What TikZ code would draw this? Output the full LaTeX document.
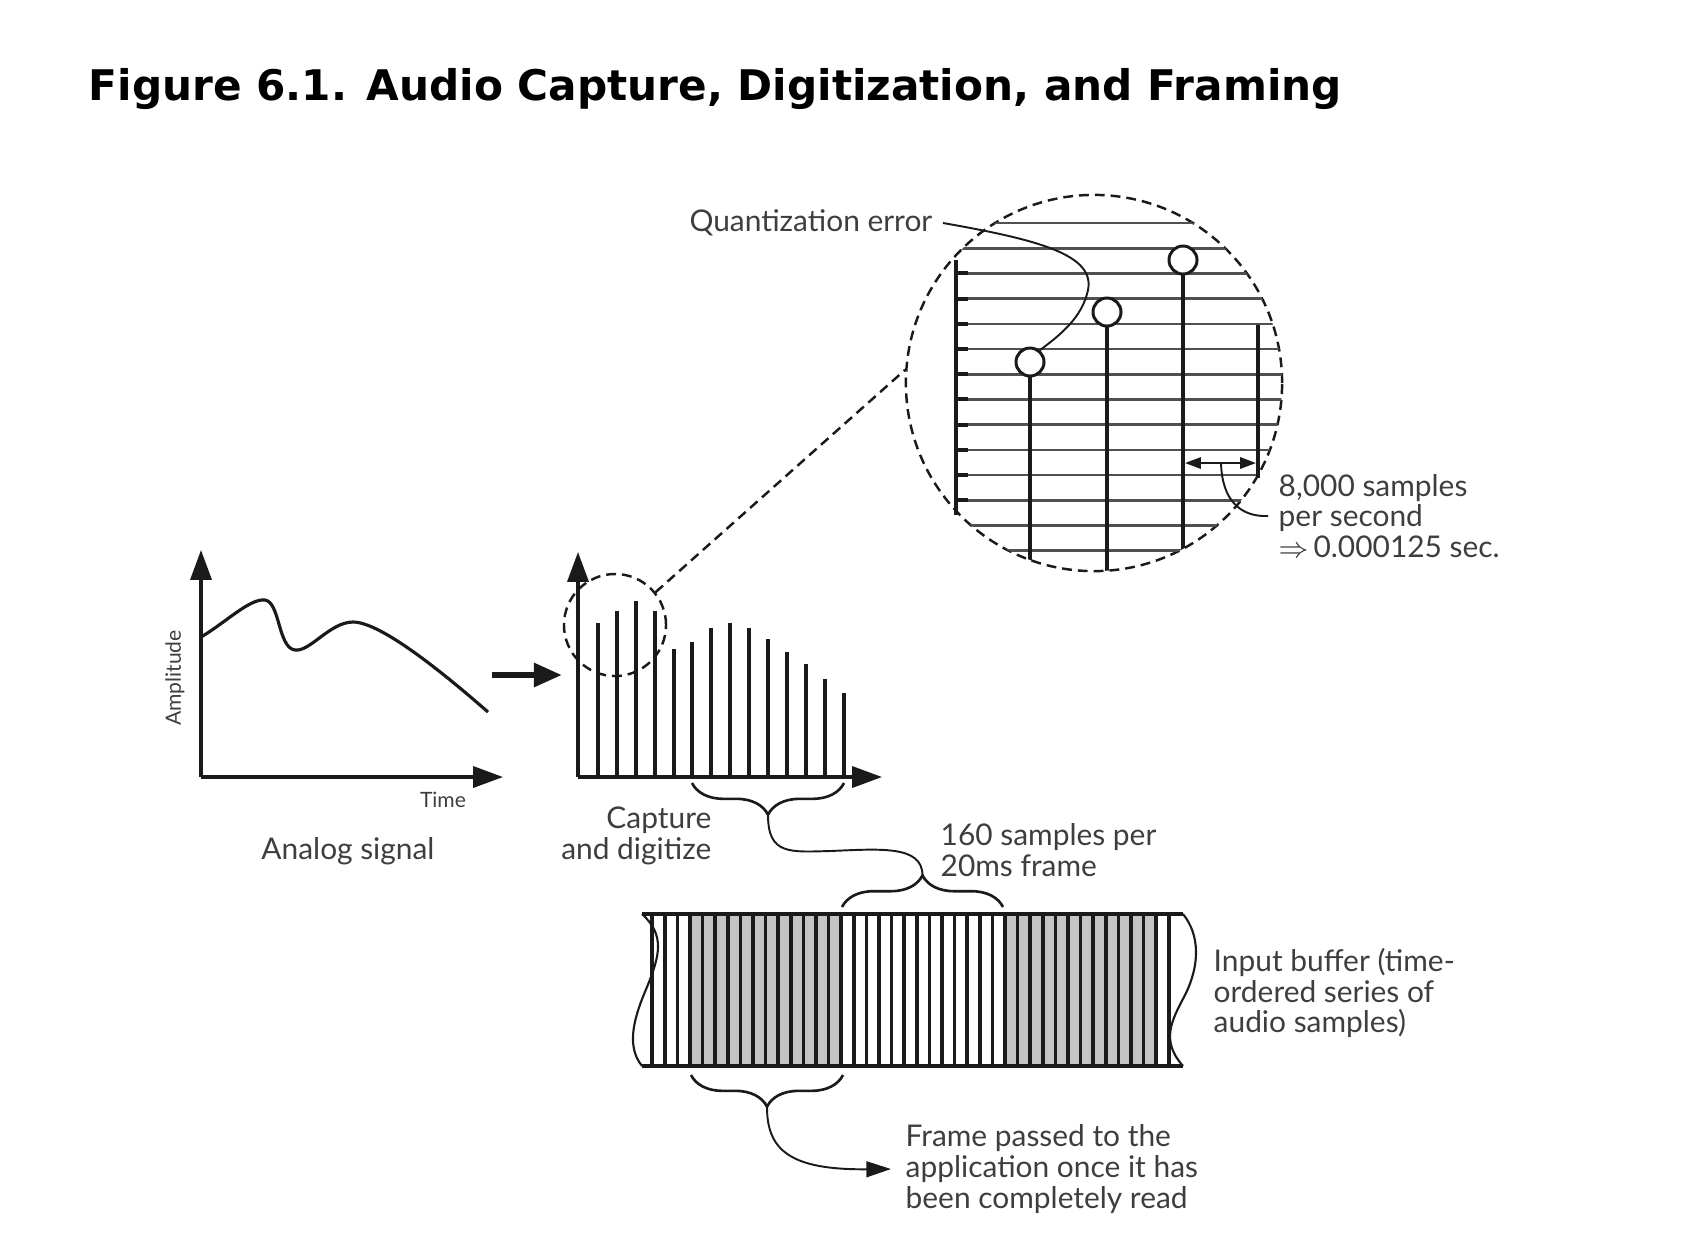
\documentclass[tikz,border=0pt]{standalone}
\usepackage{fontspec}
\setmainfont{Lato}
\newfontfamily\titlefont{DejaVu Sans}
\usetikzlibrary{arrows.meta,positioning,decorations.pathreplacing}
\definecolor{ink}{HTML}{1A1A1A}
\definecolor{labelgray}{HTML}{3E3E3E}
\definecolor{cellgray}{HTML}{C4C4C4}
\definecolor{gridgray}{HTML}{505050}

\tikzset{
  axis/.style={line width=0.9pt,ink,-{Triangle[length=8.5pt,width=6pt]}},
  lbl/.style={text=labelgray,font=\fontsize{8.5}{8.7}\selectfont,inner sep=0pt,align=left},
  tinylbl/.style={text=labelgray,font=\fontsize{6}{7}\selectfont,inner sep=0pt},
  curly/.style={decorate,decoration={brace,amplitude=9pt},line width=0.75pt,ink},
  zoomring/.style={circle,draw=ink,dash pattern=on 2.8pt off 1.7pt,line width=0.7pt,inner sep=0pt},
  smp/.style={circle,draw=ink,fill=white,line width=0.85pt,minimum size=0.28cm,inner sep=0pt},
  stem/.style={line width=0.9pt,ink},
  leader/.style={line width=0.55pt,ink},
}

\begin{document}
\begin{tikzpicture}[x=0.01cm,y=-0.01cm]
\useasboundingbox (0,0) rectangle (1688,1256);
\node[anchor=base west,inner sep=0pt,font=\titlefont\bfseries\fontsize{12}{14}\selectfont] (title) at (88,100) {Figure 6.1. Audio Capture, Digitization, and Framing};

% analog signal
\coordinate (ao) at (201,777);
\draw[axis] (ao) -- (201,550);
\draw[axis] (ao) -- (503,777);
\draw[line width=0.9pt,ink] (201,637) .. controls (225,623) and (250,598) .. (265,600)
  .. controls (280,602) and (278,648) .. (295,650)
  .. controls (310,652) and (330,622) .. (353,622)
  .. controls (380,622) and (440,670) .. (488,712);
\node[tinylbl,rotate=90] (amp) at (175,678) {Amplitude};
\node[tinylbl] (time) at (443,800) {Time};
\node[lbl] (analog) at (348,851) {Analog signal};

\coordinate (fa) at (492,675);
\coordinate (fb) at (562,675);
\draw[line width=1.8pt,ink,-{Triangle[length=8pt,width=6.5pt]}] (fa) -- (fb);

% sampled signal
\coordinate (do) at (578,777);
\foreach \x/\t in {598/623,617/611,636/601,655/611,674/649,692/642,711/628,730/623,749/628,768/639,787/652,806/664,825/679,844/693}
  \draw[stem] (\x,777) -- (\x,\t);
\draw[axis] (do) -- (578,552);
\draw[axis] (do) -- (882,777);
\node[lbl,anchor=east,align=right] (capt) at (712,836) {Capture\\and digitize};

% zoomed view
\node[zoomring,minimum size=1.02cm] (zc) at (615,625) {};
\node[zoomring,minimum size=3.76cm] (bigc) at (1094,383) {};
\draw[ink,dash pattern=on 2.8pt off 1.7pt,line width=0.7pt] (zc.39) -- (bigc.176);
\begin{scope}
\clip (bigc.center) circle (1.88cm);
\foreach \k in {0,...,13}
  \draw[line width=0.75pt,gridgray] (957,223+25.2*\k) -- (1300,223+25.2*\k);
\foreach \x/\t in {1030/362,1107/312,1183/260}
  \draw[stem] (\x,\t) -- (\x,600);
\end{scope}
\draw[stem] (1258,325) -- (1258,478);
\draw[line width=1.2pt,ink] (956,260) -- (956,515);
\foreach \k in {2,...,11}
  \draw[line width=1.1pt,ink] (956,223+25.2*\k) -- (968,223+25.2*\k);
\node[smp] (c1) at (1030,362) {};
\node[smp] (c2) at (1107,312) {};
\node[smp] (c3) at (1183,260) {};

\node[lbl,anchor=east] (qerr) at (933,223) {Quantization error};
\draw[leader] ([xshift=0.1cm]qerr.east) .. controls (1040,240) and (1095,255) .. (1088,290)
  .. controls (1082,318) and (1060,335) .. (c1.50);

\coordinate (gl) at (1185,463);
\coordinate (gr) at (1256,463);
\coordinate (gm) at (1221,463);
\draw[line width=0.6pt,ink,{Triangle[length=4.5pt,width=3.2pt]}-{Triangle[length=4.5pt,width=3.2pt]}] (gl) -- (gr);
\node[lbl,anchor=west] (eight) at (1278,516) {8,000 samples\\per second\\$\Rightarrow$\,0.000125 sec.};
\draw[leader] (gm) .. controls (1222,500) and (1240,517) .. ([xshift=-0.1cm]eight.west);

% input buffer
\fill[cellgray] (690,914) rectangle (841.2,1066);
\fill[cellgray] (1005,914) rectangle (1156.2,1066);
\foreach \k in {0,...,41}
  \draw[line width=1pt,ink] (652.2+12.6*\k,914) -- (652.2+12.6*\k,1066);
\draw[line width=1.2pt,ink] (642,914) -- (1183,914);
\draw[line width=1.2pt,ink] (642,1066) -- (1183,1066);
\draw[line width=0.6pt,ink] (642,914) .. controls (665,935) and (660,955) .. (647,987)
  .. controls (635,1015) and (625,1045) .. (642,1066);
\draw[line width=0.6pt,ink] (1183,914) .. controls (1200,935) and (1200,965) .. (1185,995)
  .. controls (1172,1020) and (1160,1040) .. (1183,1066);
\node[lbl,anchor=west] (inbuf) at (1213,993) {Input buffer (time-\\ordered series of\\audio samples)};

% braces
\draw[curly] (844,783) -- (692,783);
\coordinate (tipA) at (768,815);
\draw[curly] (842,907) -- (1003,907);
\coordinate (tipB) at (922.5,875);
\draw[curly] (843,1075) -- (691,1075);
\coordinate (tipC) at (767,1107);
\node[lbl,anchor=west] (frm160) at (940,850) {160 samples per\\20ms frame};
\draw[leader] (tipA) .. controls (768,855) and (790,852) .. (830,851)
  .. controls (880,849) and (922,845) .. (tipB);
\node[lbl,anchor=west] (frame) at (905,1169) {Frame passed to the\\application once it has\\been completely read};
\draw[leader,-{Triangle[length=7pt,width=4.5pt]}] (tipC) .. controls (767,1150) and (790,1170) .. ([xshift=-0.14cm]frame.west);
\end{tikzpicture}
\end{document}
